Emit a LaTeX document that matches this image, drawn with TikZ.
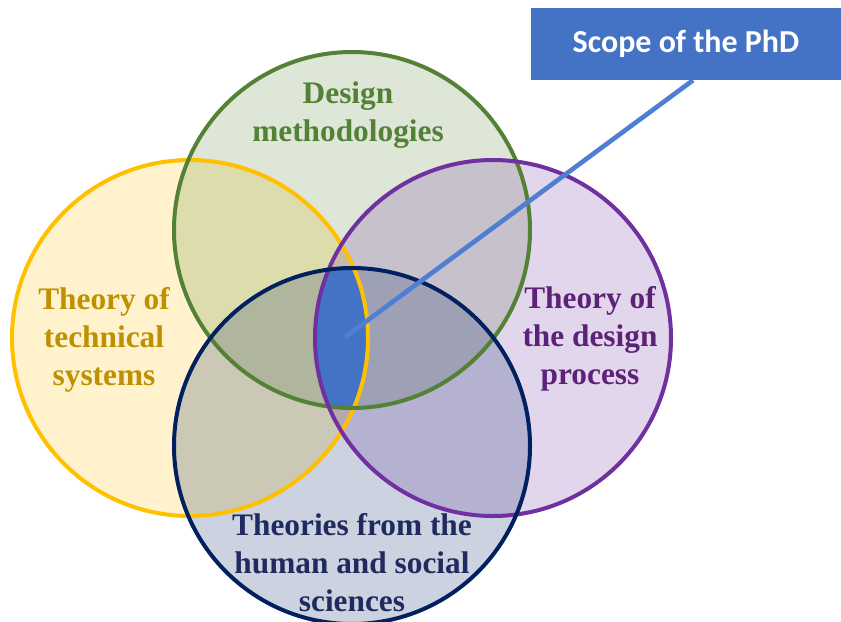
\documentclass[tikz,border=0pt]{standalone}
\usepackage{fontspec}
\setmainfont{Liberation Serif}
\newfontfamily\boxfont{Carlito}
\usetikzlibrary{positioning}

\definecolor{techcol}{HTML}{FFC000}
\definecolor{methcol}{HTML}{538135}
\definecolor{proccol}{HTML}{7030A0}
\definecolor{humcol}{HTML}{002060}
\definecolor{scopecol}{HTML}{4472C4}
\definecolor{pointcol}{HTML}{4F7FD2}
\definecolor{techtxt}{HTML}{BF9000}
\definecolor{proctxt}{HTML}{5C2277}
\definecolor{humtxt}{HTML}{1F2A5E}

\tikzset{
  field/.style={line width=3pt},
  fieldlabel/.style={align=center, font=\bfseries\fontsize{23.5}{28.5}\selectfont},
  scopebox/.style={fill=scopecol, minimum width=232.5pt, minimum height=54pt,
    text=white, font=\boxfont\bfseries\fontsize{24}{28}\selectfont}
}

\begin{document}
\begin{tikzpicture}[x=0.75pt, y=-0.75pt]
            \useasboundingbox (0,0) rectangle (841,621);
            \coordinate (T) at (190,338);
            \coordinate (M) at (352,230);
            \coordinate (P) at (493,338);
            \coordinate (H) at (352,446);

            % light fills
            \fill[techcol, fill opacity=0.2] (T) circle (133.5pt);
            \fill[methcol, fill opacity=0.2] (M) circle (133.5pt);
            \fill[proccol, fill opacity=0.2] (P) circle (133.5pt);
            \fill[humcol, fill opacity=0.2] (H) circle (133.5pt);

            % common part of the four fields
            \begin{scope}
                \clip (T) circle (133.5pt);
                \clip (M) circle (133.5pt);
                \clip (P) circle (133.5pt);
                \fill[scopecol] (H) circle (133.5pt);
            \end{scope}

            \draw[field, techcol] (T) circle (133.5pt);
            \draw[field, methcol] (M) circle (133.5pt);
            \draw[field, proccol] (P) circle (133.5pt);
            \draw[field, humcol] (H) circle (133.5pt);

            \node[fieldlabel, text=techtxt] (tech) at (104,340) {Theory of\\technical\\systems};
            \node[fieldlabel, text=methcol] (meth) at (348,115) {Design\\methodologies};
            \node[fieldlabel, text=proctxt] (proc) at (590,339) {Theory of\\the design\\process};
            \node[fieldlabel, text=humtxt] (hum) at (352,563) {Theories from the\\human and social\\sciences};

            \node[scopebox] (scope) at (686,44) {Scope of the PhD};
            \coordinate (core) at (345,337);
            \draw[pointcol, line width=3.5pt] (scope.south) ++(7,0) coordinate (tail) -- (core);
\end{tikzpicture}
\end{document}
